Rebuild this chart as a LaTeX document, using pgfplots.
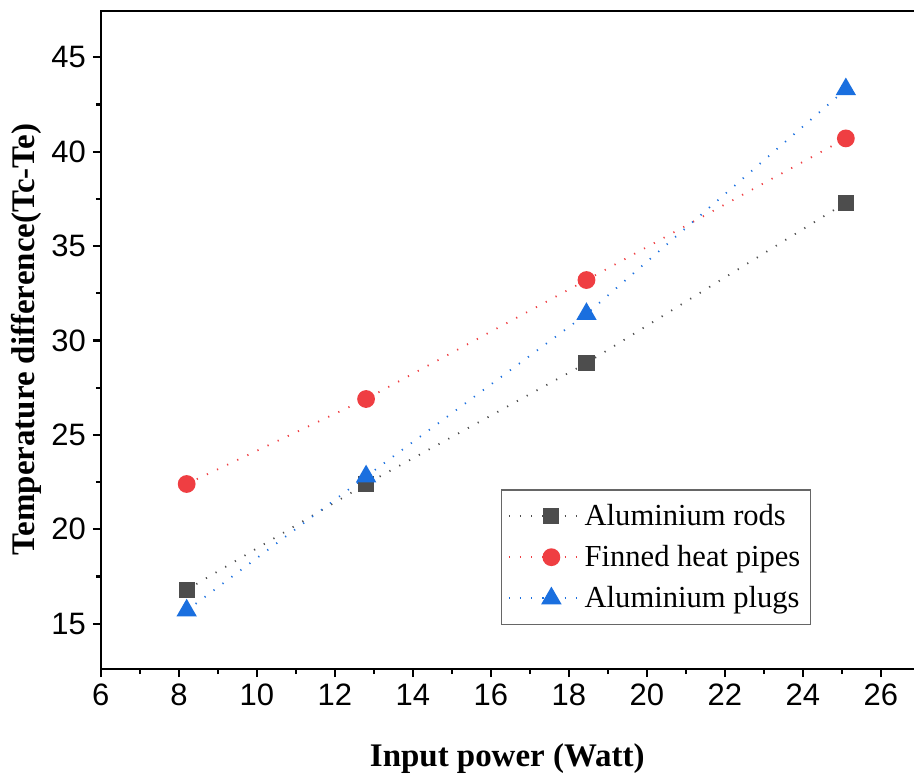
\documentclass[border=0pt]{standalone}
\usepackage{fontspec}
\setmainfont{Liberation Serif}
\newfontfamily\arial{Liberation Sans}
\usepackage{pgfplots}
\pgfplotsset{compat=1.18}
\definecolor{cgray}{HTML}{4D4D4D}
\definecolor{cred}{HTML}{EF3E42}
\definecolor{cblue}{HTML}{1A6FDF}
\begin{document}
\begin{tikzpicture}
\begin{axis}[
  name=ax,
  clip=false,
  scale only axis,
  width=407pt, height=330pt,
  xmin=6, xmax=26.84, ymin=12.6, ymax=47.5,
  axis x line*=bottom, axis y line*=left,
  axis line style={line width=1.1pt, -},
  xtick={6,8,...,26}, ytick={15,20,...,45},
  minor x tick num=1, minor y tick num=1,
  tick align=outside,
  major tick length=4pt, minor tick length=2.5pt,
  tick style={line width=1.1pt, black},
  /pgf/number format/assume math mode=true,
  ticklabel style={font=\arial\fontsize{15.5}{15.5}\selectfont},
  xlabel={\bfseries Input power (Watt)},
  ylabel={\bfseries Temperature difference(Tc-Te)},
  label style={font=\fontsize{16.5}{16.5}\selectfont},
  xlabel style={yshift=-12pt},
  ylabel style={yshift=-2pt},
  legend style={at={(0.4926,0.2727)}, anchor=north west, draw=gray!80!black, line width=0.6pt,
    font=\fontsize{15.3}{16}\selectfont, row sep=4.5pt, inner xsep=3pt, inner ysep=5pt},
  legend cell align=left,
  legend image code/.code={
    \draw[#1, mark=none] (0cm,0cm) -- (1.25cm,0cm);
    \draw[#1, solid] plot coordinates {(0.75cm,0cm)};
  },
]
\addplot[black, line width=1.3pt, mark=none, forget plot] coordinates {(6,47.45) (26.84,47.45)};
\addplot[cgray, line width=0.9pt, dash pattern=on 0.6pt off 5pt, mark=square*, mark size=3.6pt, mark options={solid, fill=cgray, draw=cgray}]
  coordinates {(8.2,16.8) (12.8,22.4) (18.45,28.8) (25.1,37.3)};
\addlegendentry{Aluminium rods}
\addplot[cred, line width=0.9pt, dash pattern=on 0.6pt off 5pt, mark=*, mark size=4pt, mark options={solid, fill=cred, draw=cred}]
  coordinates {(8.2,22.4) (12.8,26.9) (18.45,33.2) (25.1,40.7)};
\addlegendentry{Finned heat pipes}
\addplot[cblue, line width=0.9pt, dash pattern=on 0.6pt off 5pt, mark=triangle*, mark size=5pt, mark options={solid, fill=cblue, draw=cblue}]
  coordinates {(8.2,15.7) (12.8,22.8) (18.45,31.4) (25.1,43.3)};
\addlegendentry{Aluminium plugs}
\end{axis}
\path (ax.north west) ++(0,5pt);
\path (ax.south west) ++(-50.5pt,-54pt);
\end{tikzpicture}
\end{document}
